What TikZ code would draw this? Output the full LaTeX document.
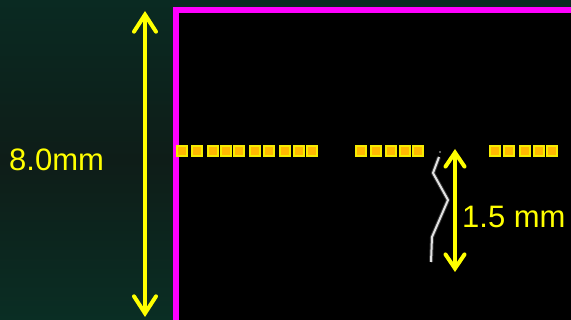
\documentclass[tikz,border=0pt]{standalone}
\usepackage{fontspec}
\setmainfont{Liberation Sans}
\usetikzlibrary{arrows.meta}
\definecolor{bgtop}{RGB}{10,42,34}
\definecolor{bgmid}{RGB}{14,29,24}
\definecolor{bgbot}{RGB}{10,46,36}
\definecolor{dimyellow}{RGB}{255,255,0}
\definecolor{padfill}{RGB}{255,184,0}
\definecolor{padedge}{RGB}{245,235,0}
\definecolor{dieedge}{RGB}{255,0,255}
\definecolor{wire}{RGB}{225,225,225}
\tikzset{
  pad/.style={draw=padedge, line width=1.8pt, fill=padfill, minimum size=10pt, inner sep=0pt, outer sep=0pt},
  dimline/.style={draw=dimyellow, line width=4pt,
    {Straight Barb[length=17pt,width=22pt,line width=4pt,line cap=round]}-{Straight Barb[length=17pt,width=22pt,line width=4pt,line cap=round]}},
  loopline/.style={draw=dimyellow, line width=4pt,
    {Straight Barb[length=14pt,width=19pt,line width=4pt,line cap=round]}-{Straight Barb[length=14pt,width=19pt,line width=4pt,line cap=round]}},
  dimlabel/.style={text=dimyellow, font=\fontsize{31}{33}\selectfont, inner sep=0pt},
}
\begin{document}
\begin{tikzpicture}[x=1pt,y=-1pt]
  % canvas and background
  \useasboundingbox (0,0) rectangle (571,320);
  \shade[top color=bgtop, bottom color=bgbot, middle color=bgmid] (0,0) rectangle (571,320);
  % die outline
  \fill[black] (176,10) rectangle (575,325);
  \draw[dieedge, line width=6pt] (176,330) -- (176,10) -- (580,10);
  % bond pads
  \foreach \x [count=\i] in {182,197,213,226,239,255,269,285,299,312}
    \node[pad] (pa\i) at (\x,151) {};
  \foreach \x [count=\i] in {361,376,391,405,418}
    \node[pad] (pb\i) at (\x,151) {};
  \foreach \x [count=\i] in {495,509,525,539,552}
    \node[pad] (pc\i) at (\x,151) {};
  % bond wire
  \coordinate (w0) at (439,157);
  \coordinate (w1) at (433,173);
  \coordinate (w2) at (448,200);
  \coordinate (w3) at (432,237);
  \coordinate (w4) at (431,262);
  \draw[wire!40!black, line width=4pt, opacity=0.6, line join=round] (w0) -- (w1) -- (w2) -- (w3) -- (w4);
  \draw[wire, line width=2pt, line join=round] (w0) -- (w1) -- (w2) -- (w3) -- (w4);
  \fill[gray] (440,152) circle (1.2pt);
  % die height
  \coordinate (ht) at (145,11);
  \coordinate (hb) at (145,317);
  \draw[dimline] (ht) -- (hb);
  \node[dimlabel, anchor=west] (hlab) at (9,160) {8.0mm};
  % loop height
  \coordinate (lt) at (455,149);
  \coordinate (lb) at (455,272);
  \draw[loopline] (lt) -- (lb);
  \node[dimlabel, anchor=west] (llab) at (462,217) {1.5 mm};
\end{tikzpicture}
\end{document}
